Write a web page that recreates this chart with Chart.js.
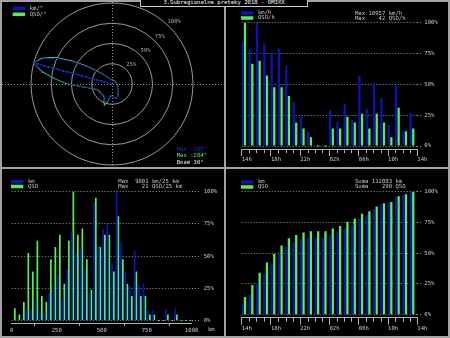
<!DOCTYPE html>
<html>
<head>
<meta charset="utf-8">
<title>3.Subregionalne preteky 2018</title>
<script src="https://cdn.jsdelivr.net/npm/chart.js@4.4.1/dist/chart.umd.min.js"></script>
<style>
  html, body { margin: 0; padding: 0; background: #000; }
  #frame { position: relative; width: 450px; height: 338px; background: #a4a4a4; overflow: hidden; }
  .panel { position: absolute; background: #000; }
  #title { position: absolute; left: 140px; top: 0; width: 166px; height: 6px; border: 1px solid #c8c8c8; border-top: 0; background: #000; overflow: hidden; }
  #title span { position: absolute; left: -83px; width: 332px; top: -1px; text-align: center; white-space: pre; color: #fff;
    font: 11.2px "DejaVu Sans Mono", monospace; line-height: 14px; transform: scale(0.5); transform-origin: center top; }
</style>
</head>
<body>
<div id="frame">
  <canvas class="panel" id="polar" width="222" height="165" style="left:2px;top:2px"></canvas>
  <canvas class="panel" id="perHour" width="222" height="165" style="left:226px;top:2px"></canvas>
  <canvas class="panel" id="perDist" width="222" height="167" style="left:2px;top:169px"></canvas>
  <canvas class="panel" id="cumHour" width="222" height="167" style="left:226px;top:169px"></canvas>
  <div id="title"><span>3.Subregionalne preteky 2018 - OM3XX</span></div>
</div>
<script>
// --- data ---

// polar plot, % of max per 5 degree bearing
const bearings = [0, 5, 10, 15, 20, 25, 30, 35, 40, 45, 50, 55, 60, 65, 70, 75, 80, 85, 90, 95,
  100, 105, 110, 115, 120, 125, 130, 135, 140, 145, 150, 155, 160, 165, 170, 175, 180, 185, 190, 195,
  200, 205, 210, 215, 220, 225, 230, 235, 240, 245, 250, 255, 260, 265, 270, 275, 280, 285, 290, 295,
  300, 305, 310, 315, 320, 325, 330, 335, 340, 345, 350, 355];
const kmPerBearing = [4, 4, 4, 4, 4, 4, 4, 4, 4, 4, 4, 4, 4, 4, 4, 5, 5, 5, 5, 6,
  6, 6, 7, 7, 8, 9, 10, 11, 12, 13, 15, 17, 18, 18, 17, 16, 15, 14, 16, 22,
  25, 21, 18, 17, 17, 17, 17, 17, 17, 18, 19, 22, 27, 37, 53, 68, 85, 100, 91, 75,
  54, 36, 24, 17, 13, 10, 8, 7, 6, 5, 5, 4];
const qsoPerBearing = [5, 5, 5, 5, 5, 5, 5, 5, 5, 5, 5, 5, 5, 5, 5, 5, 6, 6, 6, 6,
  7, 7, 7, 8, 8, 9, 10, 11, 12, 13, 15, 17, 18, 18, 17, 16, 15, 14, 17, 24,
  28, 23, 19, 18, 18, 18, 18, 18, 18, 19, 20, 23, 28, 38, 55, 70, 88, 100, 93, 78,
  57, 39, 26, 19, 14, 11, 9, 7, 6, 6, 5, 5];
const peakKmBearing = 285;
const peakQsoBearing = 284;
const beamWidth = 30;
const ringValues = [25, 50, 75, 100];
const ringLabels = ['25%', '50%', '75%', '100%'];
const ringLabelBearing = 45;

// per hour, 14h .. 13h
const hours = ['14', '15', '16', '17', '18', '19', '20', '21', '22', '23', '00', '01',
  '02', '03', '04', '05', '06', '07', '08', '09', '10', '11', '12', '13'];
const hourLabels = ['14h', '18h', '22h', '02h', '06h', '10h', '14h'];
const kmPerHour = [9313, 8612, 10957, 9094, 8218, 8656, 7122, 3945, 2630, 1315, 0, 0,
  3178, 2137, 3725, 2301, 6245, 3287, 5588, 4273, 1863, 5361, 1315, 2958];
const qsoPerHour = [42, 28, 29, 24, 20, 20, 17, 8, 6, 3, 0, 0,
  6, 6, 10, 8, 11, 6, 11, 8, 3, 13, 5, 6];

// per 25 km distance bin
const binStarts = [0, 25, 50, 75, 100, 125, 150, 175, 200, 225, 250, 275, 300, 325, 350, 375, 400, 425, 450, 475,
  500, 525, 550, 575, 600, 625, 650, 675, 700, 725, 750, 775, 800, 825, 850, 875, 900, 925, 950, 975];
const distTicks = [0, 250, 500, 750, 1000];
const kmPerBin = [25, 37, 187, 850, 813, 1730, 700, 600, 2050, 2700, 3500, 1700, 3900, 6800, 5150, 5600, 3950, 2180, 9000, 5650,
  6950, 7350, 4350, 9801, 5950, 3700, 2650, 5300, 2750, 2850, 760, 790, 0, 0, 860, 0, 910, 0, 0, 0];
const qsoPerBin = [2, 1, 3, 11, 8, 13, 4, 3, 10, 12, 14, 6, 13, 21, 14, 15, 10, 5, 20, 12,
  14, 14, 8, 17, 10, 6, 4, 8, 4, 4, 1, 1, 0, 0, 1, 0, 1, 0, 0, 0];

const pctValues = [0, 25, 50, 75, 100];
const pctLabels = ['0%', '25%', '50%', '75%', '100%'];

// --- styles ---
const BLUE = '#0a16b4';
const GREEN = '#55ee55';
const GRID = '#9a9a9a';
const AXIS = '#b0b0b0';
const TEXT = '#c8c8c8';
const FONT = '5.6px "DejaVu Sans Mono", monospace';

Chart.defaults.font.family = '"DejaVu Sans Mono", monospace';
Chart.defaults.font.size = 5.6;
Chart.defaults.color = TEXT;
Chart.defaults.animation = false;
Chart.defaults.plugins.legend.display = false;
Chart.defaults.plugins.tooltip.enabled = false;

const pctOfMax = arr => { const m = Math.max(...arr); return arr.map(v => v / m * 100); };
const runningPct = arr => {
  const total = arr.reduce((a, b) => a + b, 0);
  let acc = 0;
  return arr.map(v => { acc += v; return acc / total * 100; });
};
const sum = arr => arr.reduce((a, b) => a + b, 0);

// legend boxes + info lines drawn in the panel
function textPlugin(cfg) {
  return {
    id: 'panelText',
    afterDraw(chart) {
      const ctx = chart.ctx;
      ctx.save();
      ctx.font = FONT;
      ctx.textBaseline = 'middle';
      ctx.textAlign = 'left';
      chart.data.datasets.filter(d => !d.marker).forEach((ds, i) => {
        const y = cfg.legend.y + i * cfg.legend.dy;
        ctx.fillStyle = ds.borderColor;
        ctx.fillRect(cfg.legend.x, y - 1.75, 12.3, 3.5);
        ctx.fillStyle = TEXT;
        ctx.fillText(ds.label, cfg.legend.x + 17, y);
      });
      cfg.lines.forEach(l => {
        ctx.fillStyle = l.color || TEXT;
        ctx.fillText(l.text, l.x, l.y);
      });
      ctx.restore();
    }
  };
}

// short ticks for every hour
const hourMinorTicks = {
  id: 'hourMinorTicks',
  afterDraw(chart) {
    const s = chart.scales.xt, ctx = chart.ctx;
    ctx.save();
    ctx.strokeStyle = AXIS;
    ctx.lineWidth = 1;
    ctx.beginPath();
    for (let h = 0; h <= hours.length; h++) {
      if (h % 4 === 0) continue;
      const x = Math.round(s.getPixelForValue(h)) + 0.5;
      ctx.moveTo(x, s.top);
      ctx.lineTo(x, s.top + 4);
    }
    ctx.stroke();
    ctx.restore();
  }
};

// dotted crosshair and ring labels of the polar plot
const polarDecor = {
  id: 'polarDecor',
  beforeDatasetsDraw(chart) {
    const s = chart.scales.r, ctx = chart.ctx;
    const cx = Math.round(s.xCenter) + 0.5, cy = Math.round(s.yCenter) + 0.5;
    ctx.save();
    ctx.strokeStyle = GRID;
    ctx.lineWidth = 1;
    ctx.setLineDash([1, 2]);
    ctx.beginPath();
    ctx.moveTo(0, cy); ctx.lineTo(chart.width, cy);
    ctx.moveTo(cx, 0); ctx.lineTo(cx, chart.height);
    ctx.stroke();
    ctx.setLineDash([]);
    ctx.font = FONT;
    ctx.fillStyle = '#a8a8a8';
    ctx.textAlign = 'center';
    ctx.textBaseline = 'middle';
    const idx = bearings.indexOf(ringLabelBearing);
    ringValues.forEach((v, i) => {
      const p = s.getPointPosition(idx, s.getDistanceFromCenterForValue(v) + 7);
      ctx.fillText(ringLabels[i], p.x, p.y);
    });
    ctx.restore();
  }
};

function pctAxis(min, tickLen, pad) {
  return {
    position: 'right',
    min: min,
    max: 100,
    afterFit: s => { s.width = 30; },
    afterBuildTicks: s => { s.ticks = pctValues.map(value => ({ value })); },
    ticks: { padding: pad, callback: (v, i) => pctLabels[i] },
    grid: { color: GRID, tickLength: tickLen, tickBorderDash: [1, 2] },
    border: { display: false, dash: [1, 2] }
  };
}

// --- panel 1: polar plot ---
const nearest = b => bearings.reduce((p, c) => Math.abs(c - b) < Math.abs(p - b) ? c : p);
new Chart(document.getElementById('polar'), {
  type: 'radar',
  data: {
    labels: bearings,
    datasets: [
      { label: 'km/°', data: kmPerBearing, borderColor: BLUE, backgroundColor: 'transparent' },
      { label: 'QSO/°', data: qsoPerBearing, borderColor: GREEN, backgroundColor: 'transparent' },
      { marker: true, data: bearings.map(b => b === nearest(peakKmBearing) ? 100 : 0), borderColor: BLUE, backgroundColor: 'transparent' },
      { marker: true, data: bearings.map(b => b === nearest(peakQsoBearing) ? 100 : 0), borderColor: GREEN, backgroundColor: 'transparent', borderDash: [3, 2] }
    ]
  },
  options: {
    responsive: false,
    layout: { padding: { left: 29, right: 31, top: 1, bottom: 2 } },
    elements: { point: { radius: 0 }, line: { borderWidth: 1, tension: 0, fill: false } },
    scales: {
      r: {
        min: 0, max: 100,
        ticks: { display: false, stepSize: 25 },
        pointLabels: { display: false },
        angleLines: { display: false },
        grid: { circular: true, color: GRID }
      }
    }
  },
  plugins: [polarDecor, textPlugin({
    legend: { x: 10.7, y: 6.3, dy: 6 },
    lines: [
      { text: 'Max :' + peakKmBearing + '°', x: 174.7, y: 148, color: '#1a2ad8' },
      { text: 'Max :' + peakQsoBearing + '°', x: 174.7, y: 154, color: GREEN },
      { text: 'Beam ' + beamWidth + '°', x: 174.7, y: 160.3, color: '#e8e8e8' }
    ]
  })]
});

// --- panels 2 and 4: per hour ---
function hourPanel(id, kmSeries, qsoSeries, names, lines, pad) {
  return new Chart(document.getElementById(id), {
    type: 'bar',
    data: {
      datasets: [
        { label: names[0], data: kmSeries.map((y, i) => ({ x: i, y })), backgroundColor: BLUE, borderColor: BLUE },
        { label: names[1], data: qsoSeries.map((y, i) => ({ x: i, y })), backgroundColor: GREEN, borderColor: GREEN }
      ]
    },
    options: {
      responsive: false,
      layout: { padding: pad },
      datasets: { bar: { categoryPercentage: 0.724, barPercentage: 0.87, minBarLength: 1, borderWidth: 0 } },
      scales: {
        x: { type: 'linear', display: false, offset: false, min: -0.27, max: hours.length - 0.27 },
        xt: {
          type: 'linear', position: 'bottom', min: 0, max: hours.length, offset: false,
          afterFit: s => { s.height = 17; },
          ticks: { stepSize: 4, autoSkip: false, maxRotation: 0, align: 'start', padding: 0,
            callback: v => hourLabels[v / 4] },
          grid: { drawOnChartArea: false, offset: false, tickLength: 7, color: AXIS },
          border: { color: AXIS }
        },
        y: pctAxis(-2.5, 4, 3)
      }
    },
    plugins: [hourMinorTicks, textPlugin({ legend: { x: 15, y: pad.top - 9.7, dy: 5 }, lines })]
  });
}

hourPanel('perHour', pctOfMax(kmPerHour), pctOfMax(qsoPerHour), ['km/h', 'QSO/h'], [
  { text: 'Max ' + String(Math.max(...kmPerHour)).padStart(5) + ' km/h', x: 129, y: 11.3 },
  { text: 'Max ' + String(Math.max(...qsoPerHour)).padStart(5) + ' QSO/h', x: 129, y: 16.3 }
], { left: 15.7, top: 20.7, right: 0.7, bottom: 0.9 });

hourPanel('cumHour', runningPct(kmPerHour), runningPct(qsoPerHour), ['km', 'QSO'], [
  { text: 'Suma ' + String(sum(kmPerHour)).padStart(6) + ' km', x: 129, y: 12.7 },
  { text: 'Suma ' + String(sum(qsoPerHour)).padStart(6) + ' QSO', x: 129, y: 17.7 }
], { left: 15.7, top: 22.7, right: 0.7, bottom: 1.2 });

// --- panel 3: per distance ---
new Chart(document.getElementById('perDist'), {
  type: 'bar',
  data: {
    labels: binStarts,
    datasets: [
      { label: 'km', data: pctOfMax(kmPerBin), backgroundColor: BLUE, borderColor: BLUE },
      { label: 'QSO', data: pctOfMax(qsoPerBin), backgroundColor: GREEN, borderColor: GREEN }
    ]
  },
  options: {
    responsive: false,
    layout: { padding: { left: 9.7, top: 22.7, right: 2.3, bottom: 2.9 } },
    datasets: { bar: { categoryPercentage: 0.8, barPercentage: 0.95, minBarLength: 1, borderWidth: 0 } },
    scales: {
      x: { display: false },
      xt: {
        type: 'linear', position: 'bottom', min: 0, max: 1000, offset: false,
        afterFit: s => { s.height = 10; },
        afterBuildTicks: s => { s.ticks = distTicks.map(value => ({ value })); },
        ticks: { autoSkip: false, maxRotation: 0, padding: 1, callback: v => String(v) },
        grid: { drawOnChartArea: false, tickLength: 3, color: AXIS },
        border: { color: AXIS }
      },
      y: pctAxis(-2, 8, 4)
    }
  },
  plugins: [textPlugin({
    legend: { x: 9, y: 12.5, dy: 5 },
    lines: [
      { text: 'Max ' + String(Math.max(...kmPerBin)).padStart(5) + ' km/25 km', x: 116.3, y: 12.7 },
      { text: 'Max ' + String(Math.max(...qsoPerBin)).padStart(5) + ' QSO/25 km', x: 116.3, y: 17.7 },
      { text: 'km', x: 206, y: 161 }
    ]
  })]
});
</script>
</body>
</html>
